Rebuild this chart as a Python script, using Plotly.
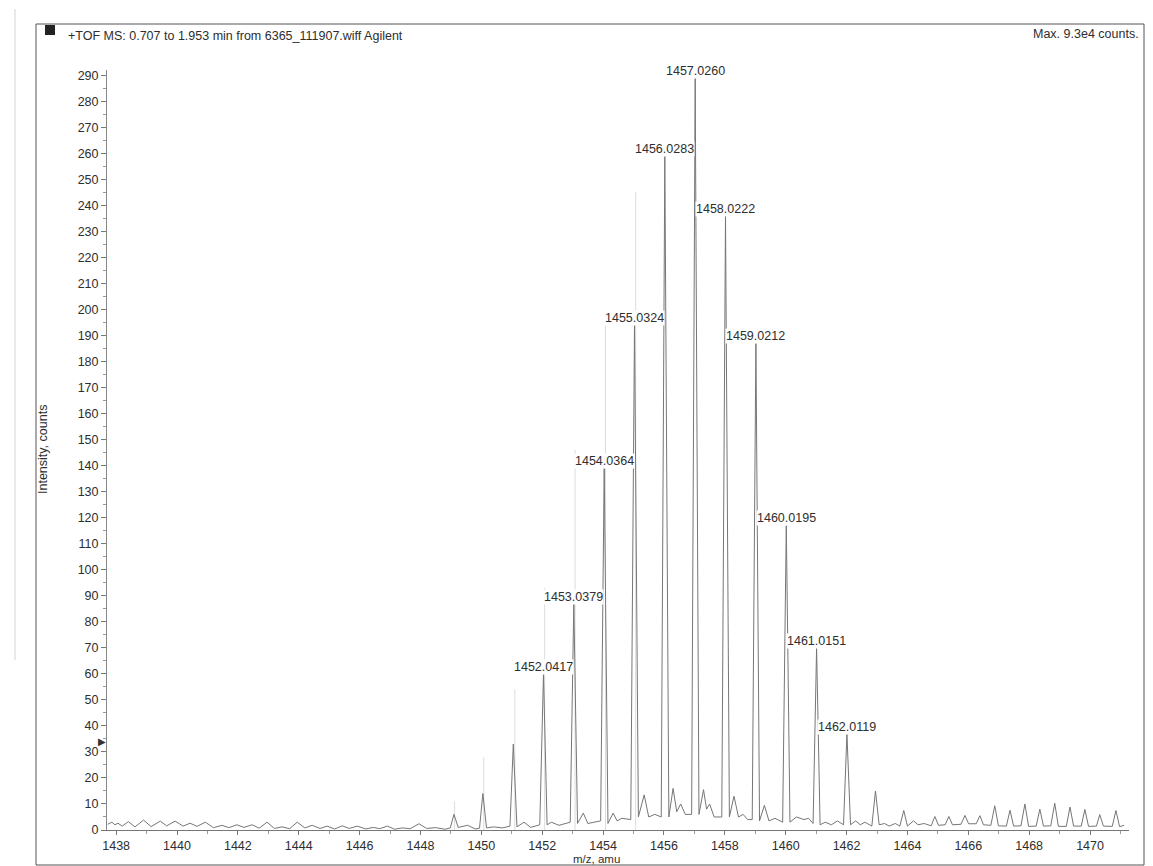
import plotly.graph_objects as go

# ------------------------------------------------------------------ data
# profile trace vertices (m/z, intensity in counts)
profile_mz = [
    1437.72, 1437.86, 1437.96, 1438.06, 1438.20, 1438.40, 1438.62, 1438.90, 1439.15, 1439.45,
    1439.66, 1439.94, 1440.20, 1440.43, 1440.66, 1440.93, 1441.20, 1441.48, 1441.70, 1441.97,
    1442.20, 1442.47, 1442.70, 1442.96, 1443.20, 1443.45, 1443.70, 1443.95, 1444.20, 1444.44,
    1444.70, 1444.93, 1445.18, 1445.43, 1445.66, 1445.92, 1446.20, 1446.45, 1446.66, 1446.91,
    1447.15, 1447.40, 1447.66, 1447.95, 1448.20, 1448.50, 1448.80, 1448.98, 1449.10, 1449.24,
    1449.55, 1449.80, 1449.94, 1450.05, 1450.17, 1450.40, 1450.70, 1450.94, 1451.05, 1451.17,
    1451.40, 1451.62, 1451.92, 1452.0417, 1452.16, 1452.30, 1452.55, 1452.92, 1453.0379, 1453.16,
    1453.35, 1453.50, 1453.92, 1454.0364, 1454.16, 1454.33, 1454.46, 1454.62, 1454.91, 1455.0324,
    1455.16, 1455.35, 1455.50, 1455.70, 1455.91, 1456.0283, 1456.16, 1456.30, 1456.42, 1456.55,
    1456.70, 1456.91, 1457.0260, 1457.15, 1457.30, 1457.40, 1457.50, 1457.65, 1457.90, 1458.0222,
    1458.15, 1458.30, 1458.45, 1458.60, 1458.75, 1458.90, 1459.0212, 1459.14, 1459.30, 1459.45,
    1459.65, 1459.90, 1460.0195, 1460.14, 1460.35, 1460.60, 1460.75, 1460.90, 1461.0151, 1461.13,
    1461.30, 1461.50, 1461.70, 1461.90, 1462.0119, 1462.13, 1462.30, 1462.45, 1462.60, 1462.83,
    1462.95, 1463.07, 1463.25, 1463.40, 1463.60, 1463.75, 1463.88, 1464.00, 1464.20, 1464.35,
    1464.55, 1464.70,
    1464.78, 1464.90, 1465.02, 1465.24, 1465.36, 1465.48, 1465.76, 1465.89, 1466.01, 1466.26,
    1466.38, 1466.50, 1466.74, 1466.87, 1466.99, 1467.25, 1467.37, 1467.49, 1467.73, 1467.86,
    1467.98, 1468.23, 1468.35, 1468.47, 1468.71, 1468.84, 1468.96, 1469.22, 1469.34, 1469.46,
    1469.71, 1469.83, 1469.95, 1470.21, 1470.32, 1470.44, 1470.73, 1470.85, 1470.97, 1471.12,
]
profile_int = [
    2.2, 3.0, 2.0, 2.6, 1.5, 3.2, 1.2, 3.8, 1.3, 3.4,
    1.6, 3.4, 1.5, 2.6, 1.4, 3.0, 0.9, 1.8, 0.9, 2.0,
    1.0, 2.0, 0.7, 3.0, 0.6, 1.2, 0.5, 3.0, 0.8, 1.8,
    0.6, 1.5, 0.4, 1.6, 0.6, 1.5, 0.4, 1.0, 0.5, 1.5,
    0.3, 0.8, 0.5, 2.4, 0.6, 0.9, 0.3, 0.8, 6.0, 1.0,
    1.8, 0.4, 0.7, 14.0, 0.8, 1.2, 0.8, 1.5, 33.0, 1.2,
    3.0, 1.0, 2.0, 60.0, 2.0, 3.0, 1.8, 3.0, 87.0, 2.5,
    6.5, 2.5, 3.5, 139.0, 2.5, 6.5, 3.5, 4.5, 4.0, 194.0,
    5.0, 13.5, 5.0, 6.0, 5.0, 259.0, 5.0, 16.0, 7.0, 10.0,
    6.0, 6.0, 289.0, 6.0, 15.5, 8.0, 10.0, 5.0, 5.0, 236.0,
    5.0, 13.0, 5.0, 6.0, 4.0, 4.0, 187.0, 3.5, 9.5, 3.5,
    4.5, 3.0, 117.0, 3.0, 5.0, 4.0, 4.5, 2.5, 70.0, 2.0,
    3.0, 2.0, 3.5, 2.0, 37.0, 2.0, 3.5, 2.0, 3.0, 1.5,
    15.0, 2.0, 2.5, 1.5, 2.5, 1.5, 7.5, 1.5, 3.5, 2.0,
    2.5, 1.8,
    1.6, 5.2, 1.8, 2.0, 5.2, 2.0, 2.2, 5.6, 2.4, 2.4,
    5.5, 2.0, 1.8, 9.3, 1.6, 1.5, 7.6, 1.5, 1.6, 10.0,
    1.4, 1.5, 8.0, 1.5, 1.6, 10.3, 1.4, 1.4, 8.8, 1.5,
    1.5, 7.9, 1.4, 1.5, 5.9, 1.5, 1.4, 7.5, 1.3, 1.8,
]

# centroid-labelled peaks
label_mz = [1452.0417, 1453.0379, 1454.0364, 1455.0324, 1456.0283, 1457.0260,
            1458.0222, 1459.0212, 1460.0195, 1461.0151, 1462.0119]

# faint "ghost" sticks visible in the scan
ghost_mz = [1449.12, 1450.08, 1451.10, 1452.08, 1453.08, 1454.08, 1455.07]
ghost_int = [11, 28, 54, 93, 146, 195, 245]

threshold_int = 34
x_tick_vals = list(range(1438, 1471, 2))
y_tick_vals = list(range(0, 291, 10))
title_text = "+TOF MS: 0.707 to 1.953 min from 6365_111907.wiff Agilent"
max_text = "Max. 9.3e4 counts."
x_title = "m/z, amu"
y_title = "Intensity, counts"

# ------------------------------------------------------------------ layout geometry
# the page body has an 8 px margin, so the figure is 8 px smaller than the window
BODY = 8
W, H = 1153 - BODY, 866 - BODY
ML, MR, MT, MB = 99, 24, 62, 36
PW, PH = W - ML - MR, H - MT - MB


def px(x):
    """window pixel x -> paper coordinate"""
    return (x - BODY - ML) / PW


def py(y):
    """window pixel y -> paper coordinate"""
    return (H - MB - (y - BODY)) / PH


FONT = "Liberation Sans, Arial, Helvetica, sans-serif"
TXT = "#2e2e2e"

fig = go.Figure()

# ghost sticks
gx, gy = [], []
for m, h in zip(ghost_mz, ghost_int):
    gx += [m, m, None]
    gy += [0, h, None]
fig.add_trace(go.Scatter(x=gx, y=gy, mode="lines",
                         line=dict(color="#dcdcdc", width=1),
                         hoverinfo="skip", showlegend=False))

# profile spectrum
fig.add_trace(go.Scatter(x=profile_mz, y=profile_int, mode="lines",
                         line=dict(color="#767676", width=1),
                         showlegend=False))

annotations = []
for m in label_mz:
    h = profile_int[profile_mz.index(m)]
    annotations.append(dict(x=m, y=h, xref="x", yref="y", text=f"{m:.4f}",
                            showarrow=False, xanchor="center", yanchor="bottom",
                            yshift=-1, bgcolor="white", borderpad=0,
                            font=dict(family=FONT, size=12.5, color=TXT)))

annotations += [
    dict(x=px(66), y=py(36), xref="paper", yref="paper", text=title_text,
         showarrow=False, xanchor="left", yanchor="middle",
         font=dict(family=FONT, size=12.5, color=TXT)),
    dict(x=px(1141), y=py(34), xref="paper", yref="paper", text=max_text,
         showarrow=False, xanchor="right", yanchor="middle",
         font=dict(family=FONT, size=12.5, color=TXT)),
    dict(x=px(43), y=0.5, xref="paper", yref="paper", text=y_title,
         showarrow=False, textangle=-90, xanchor="center", yanchor="middle",
         font=dict(family=FONT, size=12.5, color=TXT)),
    dict(x=px(596), y=py(866), xref="paper", yref="paper", text=x_title,
         showarrow=False, xanchor="center", yanchor="bottom", borderpad=0,
         font=dict(family=FONT, size=11.5, color=TXT)),
    dict(x=0, y=threshold_int, xref="paper", yref="y", text="\u25B6",
         showarrow=False, xanchor="right", yanchor="middle", xshift=1,
         font=dict(family="DejaVu Sans", size=10, color="#333")),
]

shapes = [
    # outer frame of the printed page
    dict(type="rect", xref="paper", yref="paper",
         x0=px(36), x1=px(1144), y0=py(865), y1=py(24),
         line=dict(color="#555", width=1)),
    # black square before the title
    dict(type="rect", xref="paper", yref="paper",
         x0=px(45), x1=px(55), y0=py(35), y1=py(25),
         fillcolor="#222", line=dict(width=0)),
    # faint page edge
    dict(type="line", xref="paper", yref="paper",
         x0=px(15), x1=px(15), y0=py(9), y1=py(660),
         line=dict(color="#d4d4d4", width=1)),
]

fig.update_layout(
    width=W, height=H,
    margin=dict(l=ML, r=MR, t=MT, b=MB, autoexpand=False),
    paper_bgcolor="white", plot_bgcolor="white",
    font=dict(family=FONT, size=12.5, color=TXT),
    showlegend=False,
    annotations=annotations,
    shapes=shapes,
)

fig.update_xaxes(
    range=[1437.70, 1471.28], tickvals=x_tick_vals, ticks="outside", ticklen=4,
    tickcolor="#777", showline=True, linecolor="#777", linewidth=1,
    showgrid=False, zeroline=False, automargin=False,
    tickfont=dict(family=FONT, size=12.5, color=TXT),
    minor=dict(dtick=1, tick0=1438, ticks="outside", ticklen=3, tickcolor="#999", showgrid=False),
)
fig.update_yaxes(
    range=[0, 292], tickvals=y_tick_vals, ticks="outside", ticklen=5,
    tickcolor="#777", showline=True, linecolor="#888", linewidth=1,
    showgrid=False, zeroline=False, automargin=False,
    tickfont=dict(family=FONT, size=12.5, color=TXT),
    minor=dict(dtick=5, tick0=0, ticks="outside", ticklen=3, tickcolor="#999", showgrid=False),
)

fig.write_html("out.html")
